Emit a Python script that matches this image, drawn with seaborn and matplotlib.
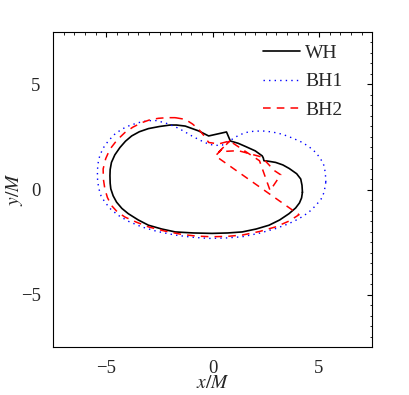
import numpy as np
import matplotlib
matplotlib.use("Agg")
import matplotlib.pyplot as plt
from matplotlib.ticker import MultipleLocator
import seaborn as sns

# horizon outlines (units of M)
wh_x = [4.22, 4.20, 4.14, 3.95, 3.60, 3.30, 2.96, 2.60, 2.41, 2.38, 2.33, 2.00,
        1.54, 1.20, 0.83, 0.65, -0.19, -0.66, -1.29, -1.70, -2.00, -2.50, -3.02,
        -3.45, -3.81, -4.10, -4.36, -4.60, -4.76, -4.82, -4.83, -4.82, -4.79,
        -4.68, -4.52, -4.27, -3.97, -3.50, -3.02, -2.40, -1.76, -0.90, -0.03,
        0.70, 1.39, 2.05, 2.65, 3.15, 3.59, 3.90, 4.08, 4.18, 4.22]
wh_y = [-0.13, 0.20, 0.50, 0.75, 1.00, 1.17, 1.29, 1.35, 1.37, 1.50, 1.60, 1.84,
        2.05, 2.20, 2.31, 2.74, 2.55, 2.79, 3.02, 3.07, 3.07, 3.00, 2.90,
        2.75, 2.55, 2.30, 2.00, 1.65, 1.29, 0.95, 0.66, 0.30, 0.03,
        -0.30, -0.60, -0.90, -1.15, -1.45, -1.70, -1.88, -2.02, -2.07, -2.09,
        -2.07, -2.02, -1.88, -1.70, -1.45, -1.15, -0.88, -0.64, -0.40, -0.13]

bh1_x = [5.32, 5.30, 5.24, 5.07, 4.85, 4.55, 4.22, 3.75, 3.28, 2.80, 2.33, 1.90,
         1.54, 1.20, 0.91, 0.65, 0.44, 0.10, -0.19, -0.60, -0.98, -1.40, -1.76,
         -2.25, -2.71, -3.10, -3.50, -3.90, -4.28, -4.62, -4.91, -5.15, -5.31,
         -5.40, -5.42, -5.41, -5.35, -5.25, -5.07, -4.80, -4.44, -3.95, -3.34,
         -2.60, -1.76, -1.00, -0.19, 0.60, 1.39, 2.20, 2.96, 3.55, 4.06, 4.50,
         4.85, 5.10, 5.24, 5.32]
bh1_y = [0.35, 0.75, 1.13, 1.47, 1.76, 2.02, 2.24, 2.45, 2.63, 2.74, 2.79, 2.77,
         2.71, 2.57, 2.39, 2.23, 2.11, 2.10, 2.16, 2.35, 2.55, 2.80, 2.99,
         3.18, 3.29, 3.27, 3.18, 3.05, 2.87, 2.62, 2.31, 1.97, 1.61,
         1.20, 0.82, 0.40, 0.03, -0.30, -0.60, -0.93, -1.23, -1.52, -1.78,
         -2.00, -2.17, -2.27, -2.33, -2.31, -2.25, -2.08, -1.86, -1.64, -1.39, -1.10,
         -0.76, -0.45, -0.13, 0.35]

bh2_x = [-1.76, -1.29, -0.95, -0.66, -0.40, -0.19, 0.28, 0.80, 2.20, 2.70, 3.20,
         2.90, 2.30, 1.20, 0.30, 0.80, 0.13, 4.06, 3.60, 2.96, 2.20, 1.39, 0.70,
         -0.03, -0.75, -1.45, -2.25, -3.02, -3.60, -4.13, -4.50, -4.76, -4.95,
         -5.07, -5.14, -5.15, -5.03, -4.83, -4.50, -4.13, -3.75, -3.34, -2.95,
         -2.55, -2.15, -1.76]
bh2_y = [3.42, 3.34, 3.12, 2.87, 2.55, 2.24, 2.17, 2.31, 1.37, -0.05, 0.70,
         0.90, 1.55, 1.85, 1.80, 2.31, 1.60, -1.20, -1.50, -1.78, -2.00, -2.17, -2.23,
         -2.25, -2.22, -2.14, -1.98, -1.78, -1.55, -1.31, -1.05, -0.76, -0.38,
         0.03, 0.50, 0.98, 1.47, 1.92, 2.35, 2.71, 2.97, 3.18, 3.32,
         3.39, 3.42, 3.42]

sns.set_style("white")
plt.rcParams["font.family"] = ["Liberation Serif", "DejaVu Serif"]
plt.rcParams["mathtext.fontset"] = "stix"

fig = plt.figure(figsize=(4.09, 3.95), dpi=100)
ax = fig.add_axes([0.13, 0.1215, 0.78, 0.7975])

sns.lineplot(x=wh_x, y=wh_y, sort=False, estimator=None, color="black",
             lw=1.2, ax=ax, label="WH")
sns.lineplot(x=bh1_x, y=bh1_y, sort=False, estimator=None, color="blue",
             lw=1.0, ls=(0, (1, 3)), ax=ax, label="BH1")
sns.lineplot(x=bh2_x, y=bh2_y, sort=False, estimator=None, color="red",
             lw=1.1, ls=(0, (5, 4)), ax=ax, label="BH2")

ax.set_xlim(-7.5, 7.5)
ax.set_ylim(-7.5, 7.5)
ax.xaxis.set_major_locator(MultipleLocator(5))
ax.yaxis.set_major_locator(MultipleLocator(5))
ax.xaxis.set_minor_locator(MultipleLocator(0.5))
ax.yaxis.set_minor_locator(MultipleLocator(0.5))
ax.tick_params(which="both", direction="in", top=True, right=True,
               labelsize=13.5, color="black", pad=9)
ax.tick_params(which="major", length=3.5, width=0.8)
ax.tick_params(which="minor", length=1.8, width=0.6)
for s in ax.spines.values():
    s.set_color("black")
    s.set_linewidth(0.8)

ax.set_xlabel(r"$x/M$", fontsize=14, labelpad=-1)
ax.set_ylabel(r"$y/M$", fontsize=14, labelpad=-3)

ax.legend(loc="upper right", bbox_to_anchor=(0.931, 0.985), borderaxespad=0,
          frameon=False, fontsize=14, handlelength=1.9,
          handletextpad=0.26, labelspacing=0.55)

fig.savefig("out.png", dpi=100)
